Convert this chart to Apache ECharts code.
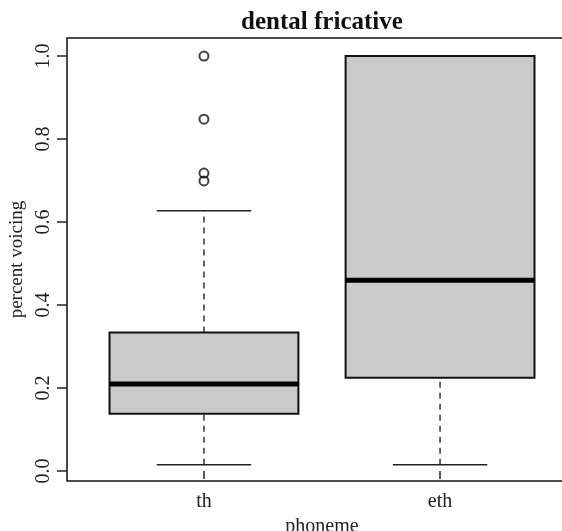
<!DOCTYPE html>
<html>
<head>
<meta charset="utf-8">
<script src="https://cdn.jsdelivr.net/npm/echarts@6/dist/echarts.min.js"></script>
<style>
    html, body {margin: 0; padding: 0; background: #fff;}
    #chart {width: 562px; height: 531px;}
</style>
</head>
<body>
<div id="chart"></div>
<script>
// 箱线图数据
const phonemes = ['th', 'eth'];
const positions = [1, 2];
const whisker_low = [0.015, 0.015];
const q1 = [0.138, 0.225];
const median = [0.210, 0.460];
const q3 = [0.334, 1.0];
const whisker_high = [0.627, 1.0];
// 离群点 [位置, 值]
const outliers = [[1, 1.0], [1, 0.848], [1, 0.718], [1, 0.699]];
const y_ticks = [0, 0.2, 0.4, 0.6, 0.8, 1.0];

const SERIF = '"Liberation Serif", "Times New Roman", serif';
const BOX_HALF = 0.4;

function render_box(params, api) {
    const x = api.value(0);
    const lo = api.value(1), b1 = api.value(2), md = api.value(3), b3 = api.value(4), hi = api.value(5);
    const cap = BOX_HALF / 2;
    const seg = function (x1, y1, x2, y2) {
        const a = api.coord([x1, y1]);
        const b = api.coord([x2, y2]);
        return {x1: a[0], y1: a[1], x2: b[0], y2: b[1]};
    };
    const tl = api.coord([x - BOX_HALF, b3]);
    const br = api.coord([x + BOX_HALF, b1]);
    const dash = {stroke: '#333', lineWidth: 1.5, lineDash: [6, 5]};
    const solid = {stroke: '#222', lineWidth: 1.5};
    return {
        type: 'group',
        children: [
            {type: 'line', shape: seg(x, lo, x, b1), style: dash},
            {type: 'line', shape: seg(x, b3, x, hi), style: dash},
            {type: 'line', shape: seg(x - cap, lo, x + cap, lo), style: solid},
            {type: 'line', shape: seg(x - cap, hi, x + cap, hi), style: solid},
            {
                type: 'rect',
                shape: {x: tl[0], y: tl[1], width: br[0] - tl[0], height: br[1] - tl[1]},
                style: {fill: '#cacaca', stroke: '#111', lineWidth: 2}
            },
            {type: 'line', shape: seg(x - BOX_HALF, md, x + BOX_HALF, md), style: {stroke: '#000', lineWidth: 5}}
        ]
    };
}

let box_data = positions.map(function (p, i) {
    return [p, whisker_low[i], q1[i], median[i], q3[i], whisker_high[i]];
});

let chart = echarts.init(document.getElementById('chart'), null, {renderer: 'canvas'});
chart.setOption({
    animation: false,
    backgroundColor: '#fff',
    title: {
        text: 'dental fricative',
        left: 322,
        top: 10,
        padding: 0,
        textAlign: 'center',
        textStyle: {fontFamily: SERIF, fontWeight: 'bold', fontSize: 25, color: '#111'}
    },
    grid: {
        left: 67, top: 38, right: -15, bottom: 50,
        outerBoundsMode: 'none',
        containLabel: false,
        show: true, borderColor: '#111', borderWidth: 1.5, backgroundColor: 'transparent'
    },
    xAxis: {
        type: 'value',
        min: 0.42,
        max: 2.58,
        name: 'phoneme',
        nameLocation: 'middle',
        nameGap: 35,
        nameTextStyle: {fontFamily: SERIF, fontSize: 20, color: '#222'},
        axisLine: {show: false},
        splitLine: {show: false},
        axisTick: {show: true, customValues: positions, length: 8, lineStyle: {color: '#222', width: 1.5}},
        axisLabel: {
            customValues: positions,
            margin: 11,
            fontFamily: SERIF, fontSize: 20, color: '#222',
            formatter: function (v) {
                return phonemes[positions.indexOf(v)];
            }
        }
    },
    yAxis: {
        type: 'value',
        min: -0.024,
        max: 1.0435,
        name: 'percent voicing',
        nameLocation: 'middle',
        nameGap: 39,
        nameTextStyle: {fontFamily: SERIF, fontSize: 19, color: '#222'},
        axisLine: {show: false},
        splitLine: {show: false},
        axisTick: {show: true, customValues: y_ticks, length: 10, lineStyle: {color: '#222', width: 1.5}},
        axisLabel: {
            customValues: y_ticks,
            rotate: 90,
            margin: 13,
            fontFamily: SERIF, fontSize: 20, color: '#222',
            formatter: function (v) {
                return v.toFixed(1);
            }
        }
    },
    series: [
        {
            type: 'custom',
            renderItem: render_box,
            encode: {x: 0, y: [1, 2, 3, 4, 5]},
            data: box_data,
            clip: false
        },
        {
            type: 'scatter',
            data: outliers,
            symbol: 'circle',
            symbolSize: 9,
            itemStyle: {color: 'rgba(0,0,0,0)', borderColor: '#111', borderWidth: 2}
        }
    ]
});
</script>
</body>
</html>
